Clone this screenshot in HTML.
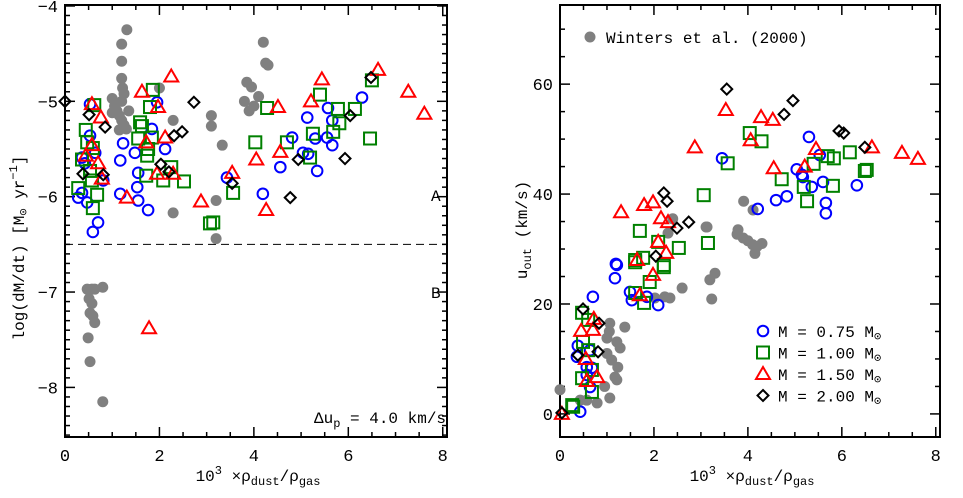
<!DOCTYPE html>
<html><head><meta charset="utf-8"><style>
html,body{margin:0;padding:0;background:#fff;}
svg{display:block;font-family:"Liberation Mono",monospace;}
</style></head><body>
<svg id="fig" width="963" height="498" viewBox="0 0 963 498" xmlns="http://www.w3.org/2000/svg"></svg>
<script>
// ---------- LEFT PANEL DATA (x: 1e3*rho_d/rho_g, y: log dM/dt) ----------
const leftGrayX=[1.31,1.2,1.2,1.2,1.22,1.0,1.05,1.1,1.15,1.2,1.25,1.3,1.2,1.35,1.25,1.0,1.15,2.29,3.1,3.1,3.33,2.29,3.2,3.2,2.0,3.85,3.95,4.1,4.0,3.9,4.2,4.25,4.3,3.8,0.47,0.57,0.63,0.51,0.57,0.53,0.59,0.63,0.49,0.53,0.8,0.8];
const leftGrayY=[-4.25,-4.40,-4.58,-4.76,-4.86,-4.97,-5.05,-5.1,-5.15,-5.2,-5.25,-5.29,-5.0,-5.1,-4.92,-5.12,-5.3,-5.2,-5.15,-5.26,-5.46,-6.17,-6.04,-6.44,-4.86,-4.8,-4.85,-4.95,-5.05,-5.1,-4.38,-4.6,-4.62,-5.0,-6.97,-6.97,-6.97,-7.07,-7.12,-7.22,-7.25,-7.32,-7.48,-7.73,-6.95,-8.15];
const leftBlueX=[0.53,0.53,0.64,0.36,0.42,0.81,0.28,0.36,0.47,0.70,0.59,1.23,1.17,1.48,1.55,1.53,1.17,1.55,1.76,1.84,1.95,2.12,3.43,6.29,5.57,5.13,5.66,4.81,5.30,5.55,5.66,5.04,5.15,4.56,5.34,4.19];
const leftBlueY=[-5.03,-5.36,-5.54,-5.59,-5.65,-5.83,-6.01,-5.96,-6.06,-6.27,-6.37,-5.44,-5.62,-5.54,-5.75,-5.90,-5.97,-6.04,-6.14,-5.29,-5.01,-5.50,-5.80,-4.96,-5.07,-5.17,-5.20,-5.38,-5.39,-5.38,-5.46,-5.54,-5.55,-5.69,-5.73,-5.97];
const leftGreenX=[0.62,1.86,1.80,0.44,0.47,0.59,0.36,0.53,0.28,0.57,0.68,0.59,1.59,1.63,1.55,1.84,1.76,1.74,1.72,2.08,2.25,2.52,3.56,3.07,3.14,4.03,4.28,5.40,5.78,6.14,5.81,5.68,5.25,4.70,5.19,6.46,6.50];
const leftGreenY=[-5.04,-4.88,-5.06,-5.30,-5.43,-5.49,-5.61,-5.73,-5.91,-5.83,-5.98,-6.12,-5.22,-5.26,-5.39,-5.38,-5.50,-5.57,-5.78,-5.83,-5.69,-5.84,-5.96,-6.28,-6.27,-5.43,-5.07,-4.93,-5.08,-5.08,-5.23,-5.32,-5.34,-5.43,-5.59,-5.39,-4.78];
const leftRedX=[2.25,1.63,0.57,1.97,0.76,0.57,0.44,0.70,0.78,1.72,2.12,1.95,2.29,1.31,2.88,3.54,5.44,6.63,7.27,7.61,5.21,4.51,4.56,4.05,4.26,1.78];
const leftRedY=[-4.74,-4.90,-5.03,-5.06,-5.17,-5.46,-5.57,-5.65,-5.81,-5.43,-5.38,-5.76,-5.76,-6.01,-6.05,-5.75,-4.77,-4.67,-4.90,-5.13,-5.00,-5.06,-5.53,-5.61,-6.14,-7.38];
const leftBlackX=[0.0,0.51,0.85,2.73,2.31,2.48,0.38,0.81,2.03,2.20,3.54,6.48,6.04,4.94,5.93,4.77];
const leftBlackY=[-5.0,-5.14,-5.27,-5.01,-5.36,-5.32,-5.76,-5.77,-5.66,-5.74,-5.86,-4.75,-5.15,-5.61,-5.60,-6.01];
const leftXTicks=[0,2,4,6,8];
const leftYTicks=[-8,-7,-6,-5,-4];
// ---------- RIGHT PANEL DATA (x: 1e3*rho_d/rho_g, y: u_out km/s) ----------
const rightGrayX=[0,1.06,1.38,1.0,1.21,1.28,1.1,1.23,1.17,1.21,1.06,0.79,0.57,0.43,1.0,0.95,1.05,2.60,3.19,3.30,3.23,2.23,2.02,2.34,2.40,2.30,3.11,3.77,3.91,4.11,3.13,3.79,3.9,4.0,4.1,4.2,4.3,4.15];
const rightGrayY=[4.4,16.5,15.8,13.8,13.1,12.0,9.8,8.5,6.7,6.2,2.9,2.0,2.5,2.5,11.0,5.0,15.0,22.9,24.4,25.6,20.9,21.3,21.1,21.1,35.5,32.9,34.0,32.7,38.7,37.1,34.0,33.5,32,31.5,30.8,30.5,31,29.2];
const rightBlueX=[3.45,1.19,5.30,5.53,5.04,5.15,5.17,5.36,5.60,6.32,4.83,4.60,4.21,5.66,5.66,1.21,1.17,0.70,1.49,1.53,2.09,1.85,0.38,0.64,0.57,0.68,0.57,0.64,0.43,0.36];
const rightBlueY=[46.5,27.3,50.4,47.1,44.5,43.5,43.1,41.3,42.2,41.6,39.6,38.9,37.3,38.4,36.5,27.1,24.7,21.3,22.2,20.7,19.8,21.3,12.4,11.6,8.5,8.4,7.1,4.9,0.4,10.4];
const rightGreenX=[3.57,3.06,1.70,2.09,2.53,3.15,2.21,1.60,1.77,4.04,4.29,5.70,5.83,6.17,5.40,4.72,5.19,5.81,6.49,6.53,5.26,0.47,0.60,2.21,1.91,1.79,1.60,0.49,0.60,0.68,0.47,0.68,0.28,0.26,1.60];
const rightGreenY=[45.6,39.8,33.3,31.3,30.2,31.1,27.1,28.0,28.4,51.1,49.6,46.9,46.5,47.6,45.5,42.7,41.3,41.5,44.2,44.4,38.7,18.4,17.1,26.7,24.0,20.2,22.0,13.1,11.6,8.0,6.5,4.0,1.3,1.6,27.6];
const rightRedX=[3.53,2.87,1.30,1.79,1.98,2.15,2.30,2.09,2.26,1.64,4.28,4.53,4.06,5.45,6.64,7.28,7.62,4.55,5.21,1.98,1.70,0.72,0.45,0.70,0.55,0.57,0.79,0.04];
const rightRedY=[55.3,48.5,36.7,38.0,38.5,35.6,34.9,31.3,29.3,28.0,54.0,53.5,49.8,48.2,48.5,47.5,46.4,44.7,45.0,25.3,21.6,17.3,15.1,15.3,10.0,6.0,6.7,0.0];
const rightBlackX=[3.55,2.21,2.28,2.74,2.49,2.04,4.96,4.77,5.94,6.04,6.49,0.49,0.83,0.38,0.81,0.04];
const rightBlackY=[59.1,40.2,38.7,34.9,33.8,28.7,57.0,54.5,51.5,51.1,48.5,19.1,16.5,10.7,11.3,0.2];
const rightXTicks=[0,2,4,6,8];
const rightYTicks=[0,20,40,60];
const legendLabels=["M = 0.75 M","M = 1.00 M","M = 1.50 M","M = 2.00 M"];

const NS="http://www.w3.org/2000/svg";
const svg=document.getElementById('fig');
function mk(tag,attrs,parent){const e=document.createElementNS(NS,tag);for(const k in attrs)e.setAttribute(k,attrs[k]);(parent||svg).appendChild(e);return e;}

const L={x0:65,x1:447,y0:5,y1:437,xmin:0,xmax:8.09,ymin:-8.52,ymax:-3.99};
const R={x0:560,x1:940,y0:5,y1:437,xmin:0,xmax:8.09,ymin:-4.2,ymax:74.4};
function sx(P,v){return P.x0+(v-P.xmin)/(P.xmax-P.xmin)*(P.x1-P.x0);}
function sy(P,v){return P.y1-(v-P.ymin)/(P.ymax-P.ymin)*(P.y1-P.y0);}

function marker(type,x,y,g){
  let e;
  if(type==='gray'){e=mk('circle',{cx:x,cy:y,r:5.5,fill:'#808080'},g);}
  else if(type==='blue'){e=mk('circle',{cx:x,cy:y,r:5.3,fill:'none',stroke:'#0000ff','stroke-width':2},g);}
  else if(type==='green'){e=mk('rect',{x:x-6,y:y-6,width:12,height:12,fill:'none',stroke:'#008000','stroke-width':2},g);}
  else if(type==='red'){e=mk('polygon',{points:`${x},${y-7} ${x+7},${y+5} ${x-7},${y+5}`,fill:'none',stroke:'#ff0000','stroke-width':2},g);}
  else {e=mk('polygon',{points:`${x},${y-5.5} ${x+5.5},${y} ${x},${y+5.5} ${x-5.5},${y}`,fill:'none',stroke:'#000','stroke-width':2},g);}
  return e;
}
function series(P,xs,ys,type,name,g){
  const grp=mk('g',{},g);
  
  
  for(let i=0;i<xs.length;i++){
    const m=marker(type,sx(P,xs[i]),sy(P,ys[i]),grp);
    
    
  }
}
function axes(P,xt,yt,xminor,yminor,name){
  const g=mk('g',{});
  
  
  mk('rect',{x:P.x0,y:P.y0,width:P.x1-P.x0,height:P.y1-P.y0,fill:'none',stroke:'#000','stroke-width':2},g);
  for(let v=P.xmin;v<=P.xmax+1e-6;v+=xminor){const X=sx(P,v);const maj=Math.abs(v/2-Math.round(v/2))<1e-6;const len=maj?10:5;
    mk('line',{x1:X,y1:P.y1,x2:X,y2:P.y1-len,stroke:'#000','stroke-width':1.5},g);
    mk('line',{x1:X,y1:P.y0,x2:X,y2:P.y0+len,stroke:'#000','stroke-width':1.5},g);}
  const ystart=Math.ceil(P.ymin/yminor)*yminor;
  for(let v=ystart;v<=P.ymax+1e-6;v+=yminor){const Y=sy(P,v);const maj=yt.some(t=>Math.abs(t-v)<1e-6);const len=maj?10:5;
    mk('line',{x1:P.x0,y1:Y,x2:P.x0+len,y2:Y,stroke:'#000','stroke-width':1.5},g);
    mk('line',{x1:P.x1,y1:Y,x2:P.x1-len,y2:Y,stroke:'#000','stroke-width':1.5},g);}
  xt.forEach(t=>{const e=mk('text',{x:sx(P,t),y:P.y1+24,'text-anchor':'middle','font-size':17},g);e.textContent=t;
    });
  yt.forEach(t=>{const e=mk('text',{x:P.x0-7,y:sy(P,t)+6,'text-anchor':'end','font-size':17},g);e.textContent=(t<0?'\u2212'+(-t):t);
    });
  return g;
}

axes(L,leftXTicks,leftYTicks,0.5,0.1,'left');
const dl=mk('line',{x1:L.x0,y1:sy(L,-6.5),x2:L.x1,y2:sy(L,-6.5),stroke:'#000','stroke-width':1,'stroke-dasharray':'8,5'});


const gl=mk('g',{});


series(L,leftGrayX,leftGrayY,'gray','left-winters',gl);
series(L,leftBlueX,leftBlueY,'blue','left-m075',gl);
series(L,leftGreenX,leftGreenY,'green','left-m100',gl);
series(L,leftRedX,leftRedY,'red','left-m150',gl);
series(L,leftBlackX,leftBlackY,'black','left-m200',gl);

axes(R,rightXTicks,rightYTicks,0.5,5,'right');
const gr=mk('g',{});


series(R,rightGrayX,rightGrayY,'gray','right-winters',gr);
series(R,rightBlueX,rightBlueY,'blue','right-m075',gr);
series(R,rightGreenX,rightGreenY,'green','right-m100',gr);
series(R,rightRedX,rightRedY,'red','right-m150',gr);
series(R,rightBlackX,rightBlackY,'black','right-m200',gr);

const lg=mk('g',{});


const wd=marker('gray',590,37,lg);


const wt=mk('text',{x:606,y:43,'font-size':16},lg);wt.textContent='Winters et al. (2000)';


['blue','green','red','black'].forEach((t,i)=>{
  const y=331+i*21.5;
  const m=marker(t,763,y,lg);
  
  
  const tx=mk('text',{x:778,y:y+6,'font-size':16},lg);
  tx.innerHTML=legendLabels[i]+'<tspan font-size="12" dy="3">\u2299</tspan>';
  
  
});
</script>
<svg x="0" y="0" width="963" height="498" style="position:absolute;left:0;top:0" xmlns="http://www.w3.org/2000/svg" font-family="Liberation Mono, monospace">
  <text x="431" y="201" font-size="16">A</text>
  <text x="431" y="298" font-size="16">B</text>
  <text x="314" y="423" font-size="16">Δu<tspan font-size="12" dy="4">p</tspan><tspan dy="-4"> = 4.0 km/s</tspan></text>
  <text x="258" y="481" font-size="16" text-anchor="middle">10<tspan font-size="12" dy="-7">3</tspan><tspan dy="7"> ×ρ</tspan><tspan font-size="12" dy="4">dust</tspan><tspan dy="-4">/ρ</tspan><tspan font-size="12" dy="4">gas</tspan></text>
  <text x="752" y="481" font-size="16" text-anchor="middle">10<tspan font-size="12" dy="-7">3</tspan><tspan dy="7"> ×ρ</tspan><tspan font-size="12" dy="4">dust</tspan><tspan dy="-4">/ρ</tspan><tspan font-size="12" dy="4">gas</tspan></text>
  <text transform="translate(24,248) rotate(-90)" font-size="16" text-anchor="middle">log(dM/dt) [M<tspan font-size="12" dy="3">⊙</tspan><tspan dy="-3"> yr</tspan><tspan font-size="12" dy="-7">−1</tspan><tspan dy="7">]</tspan></text>
  <text transform="translate(527,230) rotate(-90)" font-size="16" text-anchor="middle">u<tspan font-size="12" dy="4">out</tspan><tspan dy="-4">  (km/s)</tspan></text>
</svg>
</body></html>
